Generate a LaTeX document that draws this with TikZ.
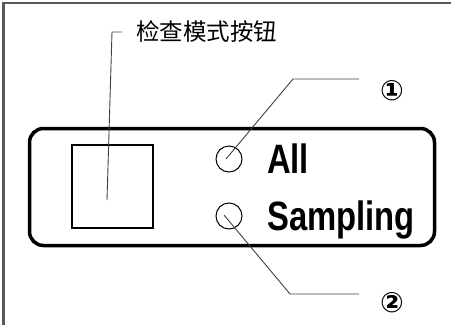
\documentclass[tikz,border=0pt]{standalone}
\usepackage{fontspec}
\usepackage{graphicx}
\setmainfont{Liberation Sans}
\newfontfamily\cjk{Noto Sans CJK SC}
\newfontfamily\symfont{DejaVu Sans}
\usetikzlibrary{positioning}

\begin{document}
\begin{tikzpicture}[
  x=1pt, y=-1pt,
  panel/.style={draw, line width=3.5pt, rounded corners=14pt, minimum width=405pt, minimum height=117pt, inner sep=0pt},
  button/.style={draw, line width=1.1pt, minimum width=81pt, minimum height=83pt, inner sep=0pt},
  lamp/.style={circle, draw, line width=1pt, minimum size=26pt, inner sep=0pt},
  caption/.style={font=\bfseries\fontsize{41}{41}\selectfont, inner sep=0pt, anchor=base west},
  number/.style={font=\symfont\bfseries\fontsize{28}{28}\selectfont, inner sep=0pt},
  leader/.style={draw=black!75, line width=0.9pt},
  every node/.style={font=\small}
]
\useasboundingbox (0,0) rectangle (451,325);

% Frame
\draw[black!65, line width=2.5pt] (3.5,325) -- (3.5,3) -- (451,3);

% Panel
\node[panel] (panel) at (232,187) {};
\node[button] (btn) at (112.5,186.5) {};
\node[lamp] (lampall) at (229,159) {};
\node[lamp] (lampsmp) at (229,216) {};
\node[caption] (all) at (267,173) {\scalebox{0.8}[1]{All}};
\node[caption] (smp) at (267,230) {\scalebox{0.8}[1]{Sampling}};

% Labels
\node[font=\cjk\fontsize{23.5}{23.5}\selectfont, anchor=west, inner sep=0pt] (title) at (136,32) {检查模式按钮};
\node[number] (num1) at (392,91) {①};
\node[number] (num2) at (392,303) {②};

% Leaders
\coordinate (b1) at (112,32);
\coordinate (b2) at (122,32);
\coordinate (a1) at (293,79);
\coordinate (a2) at (359,79);
\coordinate (s1) at (290,294);
\coordinate (s2) at (359,294);

\draw[leader] ([xshift=-5.5pt, yshift=-13.5pt]btn.center) -- (b1) -- (b2);
\draw[leader] ([xshift=-3pt]lampall.center) -- (a1) -- (a2);
\draw[leader] ([xshift=-5pt, yshift=1pt]lampsmp.center) -- (s1) -- (s2);

\end{tikzpicture}
\end{document}
